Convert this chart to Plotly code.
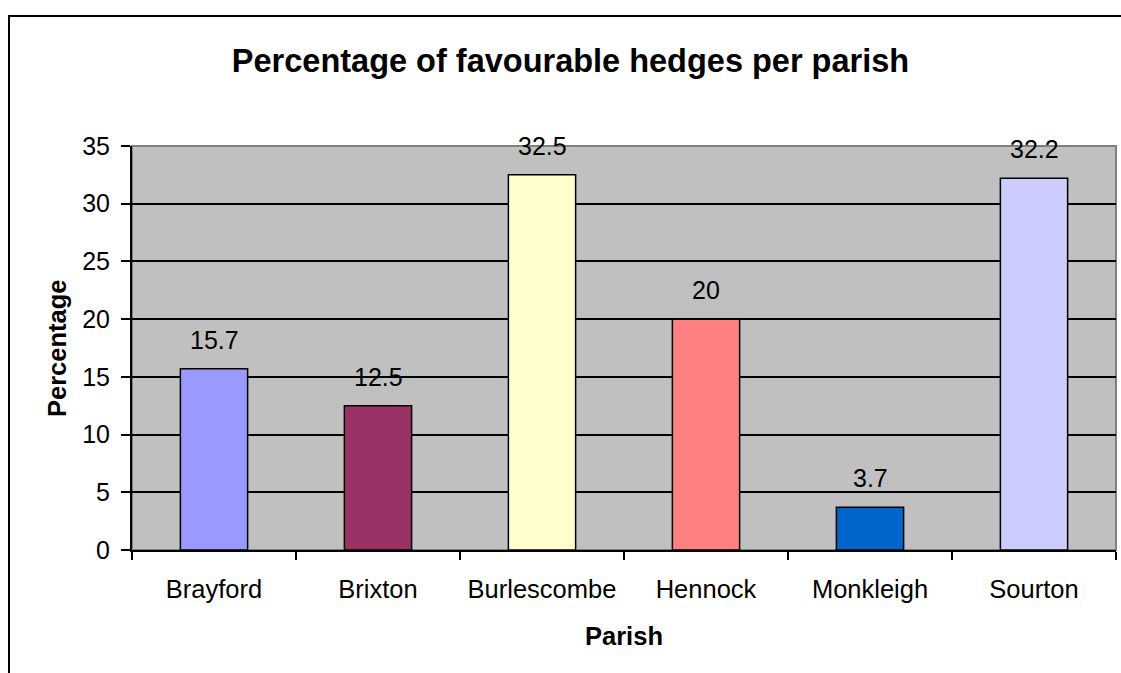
import plotly.graph_objects as go

# Parish survey results
parishes = ["Brayford", "Brixton", "Burlescombe", "Hennock", "Monkleigh", "Sourton"]
favourable_pct = [15.7, 12.5, 32.5, 20, 3.7, 32.2]
bar_colors = ["#9999FF", "#993366", "#FFFFCC", "#FF8080", "#0066CC", "#CCCCFF"]
y_ticks = [0, 5, 10, 15, 20, 25, 30, 35]

W, H = 1121, 673
L, R, T, B = 132, 1116, 146, 550  # plot area in pixels
PW, PH = R - L, B - T


def px_x(x):
    return (x - L) / PW


def px_y(y):
    return (B - y) / PH


FONT = "Liberation Sans, Arial, sans-serif"

fig = go.Figure(
    go.Bar(
        x=parishes,
        y=favourable_pct,
        marker=dict(color=bar_colors, line=dict(color="black", width=1.5)),
        width=0.41,
        hoverinfo="x+y",
    )
)

# value labels above each bar
for name, val in zip(parishes, favourable_pct):
    fig.add_annotation(
        x=name, y=val, text=f"{val:g}", showarrow=False,
        yanchor="bottom", yshift=13,
        font=dict(family=FONT, size=25, color="black"),
    )

# axis titles
fig.add_annotation(
    xref="paper", yref="paper", x=px_x(57), y=0.5, text="<b>Percentage</b>",
    textangle=-90, showarrow=False, xanchor="center", yanchor="middle",
    font=dict(family=FONT, size=25.5, color="black"),
)
fig.add_annotation(
    xref="paper", yref="paper", x=0.5, y=px_y(636), text="<b>Parish</b>",
    showarrow=False, xanchor="center", yanchor="middle",
    font=dict(family=FONT, size=25.5, color="black"),
)

# plot-area frame (grey) and outer chart frame (black)
fig.add_shape(type="rect", xref="paper", yref="paper", x0=0, x1=1, y0=0, y1=1,
              line=dict(color="#808080", width=2), layer="below")
fig.add_shape(type="rect", xref="paper", yref="paper",
              x0=px_x(9), x1=px_x(W + 20), y0=px_y(H + 20), y1=px_y(16),
              line=dict(color="black", width=2), fillcolor="rgba(0,0,0,0)")

fig.update_layout(
    width=W, height=H,
    margin=dict(l=L, r=W - R, t=T, b=H - B, pad=0),
    paper_bgcolor="white",
    plot_bgcolor="#C0C0C0",
    showlegend=False,
    font=dict(family=FONT, color="black"),
    title=dict(
        text="<b>Percentage of favourable hedges per parish</b>",
        xref="container", yref="container",
        x=570.5 / W, y=1 - 61 / H, xanchor="center", yanchor="middle",
        font=dict(family=FONT, size=32.5, color="black"),
    ),
    xaxis=dict(
        type="category",
        tickson="boundaries",
        ticks="outside", ticklen=8, tickwidth=2, tickcolor="black",
        showline=True, linecolor="black", linewidth=2,
        showgrid=False,
        tickfont=dict(family=FONT, size=25.5, color="black"),
        ticklabelstandoff=15,
    ),
    yaxis=dict(
        range=[0, 35],
        tickvals=y_ticks,
        ticks="outside", ticklen=9, tickwidth=2, tickcolor="black",
        showline=True, linecolor="black", linewidth=2,
        showgrid=True, gridcolor="black", gridwidth=2,
        zeroline=False,
        tickfont=dict(family=FONT, size=25, color="black"),
        ticklabelstandoff=6,
    ),
)

fig.write_html("out.html")
